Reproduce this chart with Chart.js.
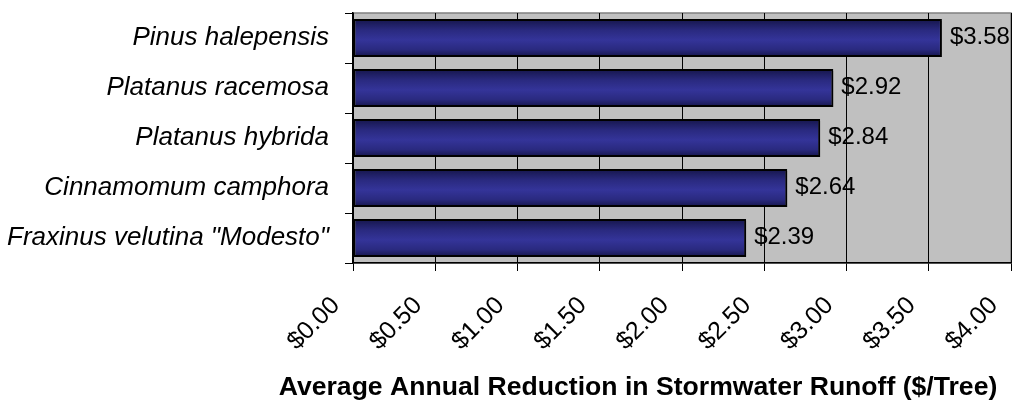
<!DOCTYPE html>
<html>
<head>
<meta charset="utf-8">
<script src="https://cdn.jsdelivr.net/npm/chart.js@4/dist/chart.umd.min.js"></script>
<style>
  html, body { margin: 0; padding: 0; background: #fff; }
  #wrap { width: 1018px; height: 401px; }
</style>
</head>
<body>
<div id="wrap"><canvas id="runoff"></canvas></div>
<script>
const species = [
  'Pinus halepensis',
  'Platanus racemosa',
  'Platanus hybrida',
  'Cinnamomum camphora',
  'Fraxinus velutina "Modesto"'
];
const reduction = [3.58, 2.92, 2.84, 2.64, 2.39];
const xTicks = [0, 0.5, 1, 1.5, 2, 2.5, 3, 3.5, 4];
const axisTitle = 'Average Annual Reduction in Stormwater Runoff ($/Tree)';

const money = v => '$' + Number(v).toFixed(2);
const BAR_PCT = 0.76;

// gray plot area with a thin darker frame
const plotBackground = {
  id: 'plotBackground',
  beforeDraw(chart) {
    const { ctx, chartArea: a } = chart;
    ctx.save();
    ctx.fillStyle = '#c0c0c0';
    ctx.fillRect(a.left, a.top, a.width, a.height);
    ctx.strokeStyle = '#808080';
    ctx.lineWidth = 1.5;
    ctx.strokeRect(a.left, a.top, a.width, a.height);
    ctx.restore();
  }
};

// soft drop shadow under the bars
const barShadow = {
  id: 'barShadow',
  beforeDatasetsDraw(chart) {
    const ctx = chart.ctx;
    ctx.save();
    ctx.shadowColor = 'rgba(0,0,0,0.3)';
    ctx.shadowOffsetX = 2;
    ctx.shadowOffsetY = 2;
    ctx.shadowBlur = 0;
  },
  afterDatasetsDraw(chart) {
    chart.ctx.restore();
  }
};

// value labels to the right of each bar
const valueLabels = {
  id: 'valueLabels',
  afterDatasetsDraw(chart) {
    const ctx = chart.ctx;
    const meta = chart.getDatasetMeta(0);
    ctx.save();
    ctx.font = '24px Arial, "Liberation Sans", sans-serif';
    ctx.fillStyle = '#000';
    ctx.textAlign = 'left';
    ctx.textBaseline = 'middle';
    meta.data.forEach((bar, i) => {
      ctx.fillText(money(reduction[i]), bar.x + 8, bar.y - 1);
    });
    ctx.restore();
  }
};

// x axis title, drawn under the rotated tick labels
const xTitle = {
  id: 'xTitle',
  afterDraw(chart) {
    const ctx = chart.ctx;
    ctx.save();
    ctx.font = 'bold 26.6px Arial, "Liberation Sans", sans-serif';
    ctx.fillStyle = '#000';
    ctx.textAlign = 'center';
    ctx.textBaseline = 'alphabetic';
    ctx.fillText(axisTitle, 638, 395);
    ctx.restore();
  }
};

// keep the plot box where it belongs: no extra room for label overhang
const noPadding = axis => {
  axis.paddingTop = 0;
  axis.paddingBottom = 0;
  axis.paddingLeft = 0;
  axis.paddingRight = 0;
};

function barGradient(c) {
  const chart = c.chart;
  const area = chart.chartArea;
  if (!area || c.type !== 'data') return '#333399';
  const y = chart.scales.y.getPixelForValue(c.dataIndex);
  const half = area.height / species.length * BAR_PCT / 2;
  const g = chart.ctx.createLinearGradient(0, y - half, 0, y + half);
  g.addColorStop(0, '#15154a');
  g.addColorStop(0.3, '#2a2a80');
  g.addColorStop(0.55, '#343499');
  g.addColorStop(0.8, '#2a2a80');
  g.addColorStop(1, '#15154a');
  return g;
}

new Chart(document.getElementById('runoff'), {
  type: 'bar',
  data: {
    labels: species,
    datasets: [{
      data: reduction,
      backgroundColor: barGradient,
      borderColor: '#000',
      borderWidth: 2,
      borderSkipped: false,
      categoryPercentage: 1,
      barPercentage: BAR_PCT
    }]
  },
  options: {
    indexAxis: 'y',
    responsive: true,
    maintainAspectRatio: false,
    animation: false,
    layout: { padding: { top: 13, right: 7, left: 0, bottom: 0 } },
    plugins: {
      legend: { display: false },
      tooltip: { enabled: false }
    },
    scales: {
      x: {
        min: 0,
        max: 4,
        afterBuildTicks: axis => { axis.ticks = xTicks.map(v => ({ value: v })); },
        afterFit: axis => { axis.height = 138; noPadding(axis); },
        grid: {
          color: '#000',
          lineWidth: 1,
          tickLength: 8
        },
        border: { color: '#000', width: 1.5 },
        ticks: {
          minRotation: 45,
          maxRotation: 45,
          padding: 20,
          labelOffset: -17,
          color: '#000',
          font: { family: 'Arial, "Liberation Sans", sans-serif', size: 25 },
          callback: v => money(v)
        }
      },
      y: {
        afterFit: axis => { axis.width = 353; noPadding(axis); },
        grid: {
          drawOnChartArea: false,
          color: '#000',
          tickLength: 8
        },
        border: { color: '#000', width: 1.5 },
        ticks: {
          padding: 16,
          color: '#000',
          font: { family: 'Arial, "Liberation Sans", sans-serif', size: 26, style: 'italic' }
        }
      }
    }
  },
  plugins: [plotBackground, barShadow, valueLabels, xTitle]
});
</script>
</body>
</html>
